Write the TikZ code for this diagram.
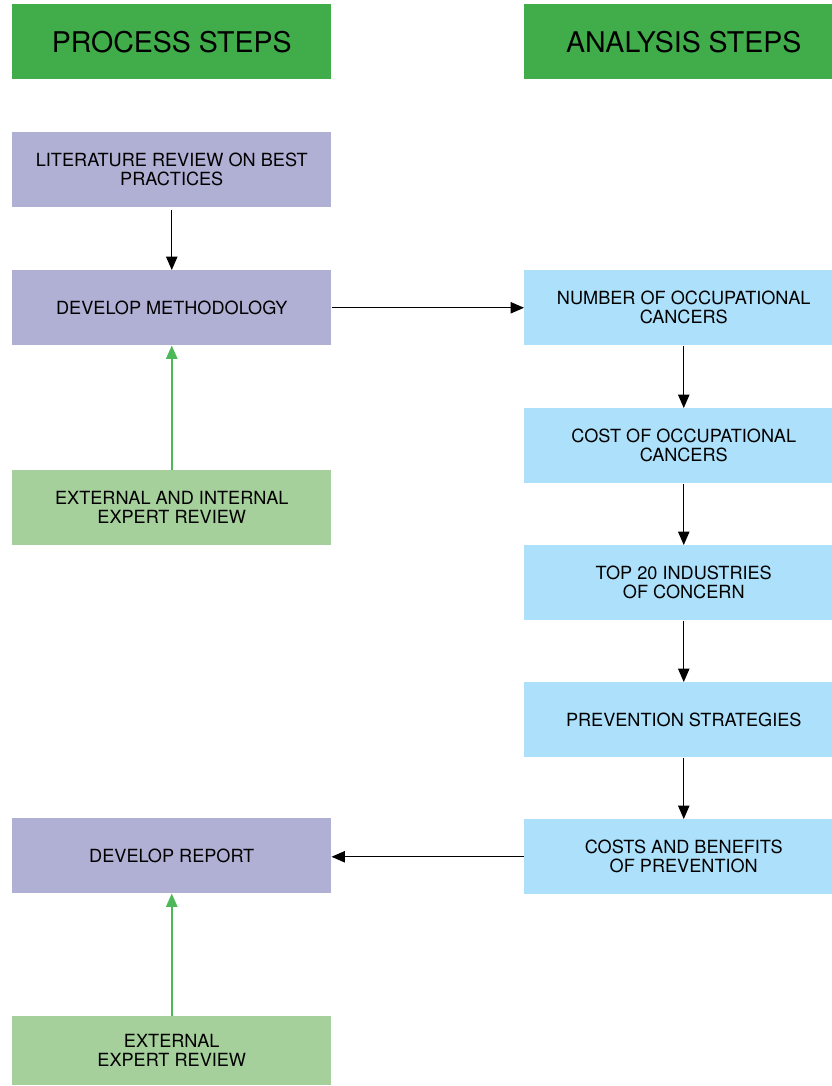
\documentclass[tikz,border=0pt]{standalone}
\usepackage{fontspec}
\setmainfont{TeX Gyre Heros}
\usetikzlibrary{arrows.meta}
\definecolor{hdrgreen}{HTML}{41AD4A}
\definecolor{procpurple}{HTML}{B0AFD4}
\definecolor{anablue}{HTML}{ADE0FA}
\definecolor{revgreen}{HTML}{A5CF9B}
\definecolor{arrgreen}{HTML}{4DB858}
\begin{document}
\begin{tikzpicture}[x=0.75pt,y=-0.75pt,
  box/.style={anchor=north west,inner sep=0pt,align=center,minimum width=239.25pt,minimum height=56.25pt,font=\fontsize{13.6}{14.3}\selectfont},
  hdr/.style={box,fill=hdrgreen,font=\fontsize{21.4}{24}\selectfont},
  proc/.style={box,fill=procpurple},
  ana/.style={box,fill=anablue},
  rev/.style={box,fill=revgreen},
  blk/.style={-{Triangle[length=10pt,width=8.5pt]},black,line width=0.8pt},
  grn/.style={-{Triangle[length=10pt,width=8.5pt]},arrgreen,line width=1.2pt}]
\clip (0,0) rectangle (832,1086);
% headers
\node[hdr] (h1) at (12,4) {PROCESS STEPS};
\node[hdr] (h2) at (524,4) {ANALYSIS STEPS};
% process column
\node[proc] (lit) at (12,132) {LITERATURE REVIEW ON BEST\\PRACTICES};
\node[proc] (meth) at (12,270) {DEVELOP METHODOLOGY};
\node[rev] (eir) at (12,470) {EXTERNAL AND INTERNAL\\EXPERT REVIEW};
\node[proc] (rep) at (12,818) {DEVELOP REPORT};
\node[rev,minimum height=51.75pt] (er) at (12,1016) {EXTERNAL\\EXPERT REVIEW};
% analysis column
\node[ana] (num) at (524,270) {NUMBER OF OCCUPATIONAL\\CANCERS};
\node[ana] (cost) at (524,408) {COST OF OCCUPATIONAL\\CANCERS};
\node[ana] (top) at (524,545) {TOP 20 INDUSTRIES\\OF CONCERN};
\node[ana] (prev) at (524,682) {PREVENTION STRATEGIES};
\node[ana] (cb) at (524,819) {COSTS AND BENEFITS\\OF PREVENTION};
% connectors
\coordinate (a1) at ([yshift=-1.5pt]lit.south);
\draw[blk] (a1) -- (meth.north);
\draw[blk] (meth.east) -- (num.west);
\draw[blk] (num.south) -- (cost.north);
\draw[blk] (cost.south) -- (top.north);
\draw[blk] (top.south) -- (prev.north);
\draw[blk] (prev.south) -- (cb.north);
\draw[blk] (cb.west) -- (cb.west -| rep.east);
\draw[grn] (eir.north) -- (meth.south);
\draw[grn] (er.north) -- (rep.south);
\end{tikzpicture}
\end{document}
